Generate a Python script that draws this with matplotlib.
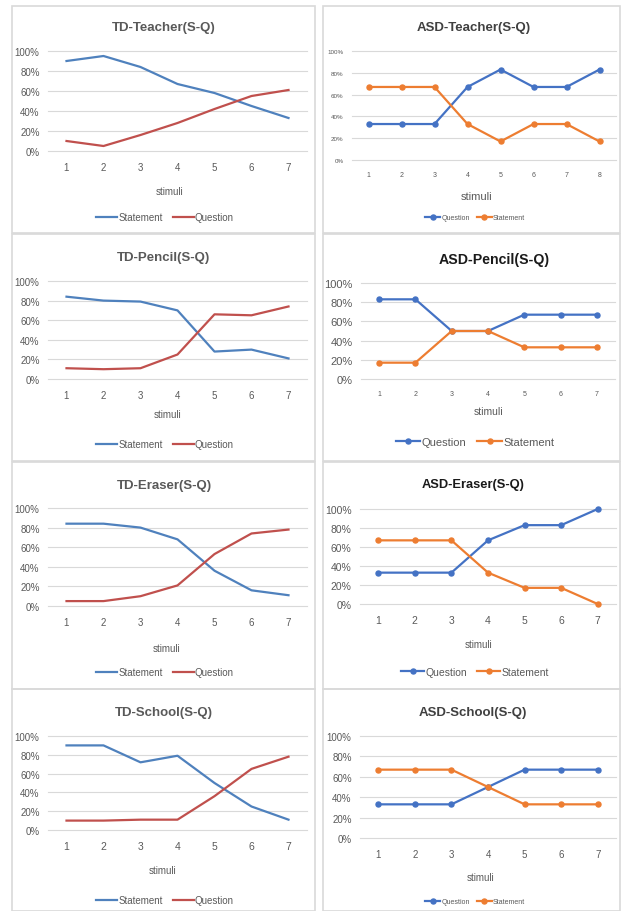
import matplotlib
matplotlib.use("Agg")
import matplotlib.pyplot as plt
from matplotlib.patches import Rectangle
from matplotlib.ticker import PercentFormatter

plt.rcParams['font.family'] = ['Liberation Sans Narrow', 'Liberation Sans', 'DejaVu Sans']

# ---- data (share of responses per stimulus) ----
stim7 = [1, 2, 3, 4, 5, 6, 7]
stim8 = [1, 2, 3, 4, 5, 6, 7, 8]

td_teacher_statement = [0.90, 0.95, 0.84, 0.67, 0.58, 0.45, 0.33]
td_teacher_question = [0.10, 0.05, 0.16, 0.28, 0.42, 0.55, 0.61]
asd_teacher_question = [0.33, 0.33, 0.33, 0.67, 0.83, 0.67, 0.67, 0.83]
asd_teacher_statement = [0.67, 0.67, 0.67, 0.33, 0.17, 0.33, 0.33, 0.17]

td_pencil_statement = [0.84, 0.80, 0.79, 0.70, 0.28, 0.30, 0.21]
td_pencil_question = [0.11, 0.10, 0.11, 0.25, 0.66, 0.65, 0.74]
asd_pencil_question = [0.83, 0.83, 0.50, 0.50, 0.67, 0.67, 0.67]
asd_pencil_statement = [0.17, 0.17, 0.50, 0.50, 0.33, 0.33, 0.33]

td_eraser_statement = [0.84, 0.84, 0.80, 0.68, 0.36, 0.16, 0.11]
td_eraser_question = [0.05, 0.05, 0.10, 0.21, 0.53, 0.74, 0.78]
asd_eraser_question = [0.33, 0.33, 0.33, 0.67, 0.83, 0.83, 1.00]
asd_eraser_statement = [0.67, 0.67, 0.67, 0.33, 0.17, 0.17, 0.00]

td_school_statement = [0.90, 0.90, 0.72, 0.79, 0.50, 0.25, 0.11]
td_school_question = [0.10, 0.10, 0.11, 0.11, 0.36, 0.65, 0.78]
asd_school_question = [0.33, 0.33, 0.33, 0.50, 0.67, 0.67, 0.67]
asd_school_statement = [0.67, 0.67, 0.67, 0.50, 0.33, 0.33, 0.33]

W, H = 622, 912
TD_BLUE, TD_RED = '#4F81BD', '#C0504D'
ASD_BLUE, ASD_ORANGE = '#4472C4', '#ED7D31'
GRAY = '#595959'

fig = plt.figure(figsize=(W / 100, H / 100), dpi=100)


def fx(px):
    return px / W


def fy(py):
    return 1 - py / H


# panel frames (pixels: left, top, right, bottom)
frames = [(12, 7, 315, 234), (323, 7, 620, 234),
          (12, 235, 315, 462), (323, 235, 620, 462),
          (12, 463, 315, 690), (323, 463, 620, 690),
          (12, 690, 315, 912), (323, 690, 620, 912)]
for l, t, r, b in frames:
    fig.patches.append(Rectangle((fx(l), fy(b)), fx(r) - fx(l), fy(t) - fy(b),
                                 transform=fig.transFigure, fill=False,
                                 edgecolor='#d9d9d9', linewidth=1.2))

panels = [
    # plot box (x0, x1, y100, y0), title/stimuli/legend centres in pixels,
    # font sizes (title, ytick, xtick, stimuli, legend)
    dict(title='TD-Teacher(S-Q)', x=stim7, asd=False,
         series=[('Statement', td_teacher_statement, TD_BLUE), ('Question', td_teacher_question, TD_RED)],
         box=(48, 307, 52, 152), tpos=(164, 28), spos=(170, 192), lpos=(165, 218),
         fs=(9.5, 7, 7, 7, 7), tc=GRAY),
    dict(title='ASD-Teacher(S-Q)', x=stim8, asd=True,
         series=[('Question', asd_teacher_question, ASD_BLUE), ('Statement', asd_teacher_statement, ASD_ORANGE)],
         box=(352, 616, 52, 161), tpos=(474, 28), spos=(477, 197), lpos=(475, 219),
         fs=(9.5, 4.5, 5, 8, 5), tc='#404040'),
    dict(title='TD-Pencil(S-Q)', x=stim7, asd=False,
         series=[('Statement', td_pencil_statement, TD_BLUE), ('Question', td_pencil_question, TD_RED)],
         box=(48, 307, 282, 380), tpos=(164, 258), spos=(168, 415), lpos=(165, 445),
         fs=(9.5, 7, 7, 7, 7), tc=GRAY),
    dict(title='ASD-Pencil(S-Q)', x=stim7, asd=True,
         series=[('Question', asd_pencil_question, ASD_BLUE), ('Statement', asd_pencil_statement, ASD_ORANGE)],
         box=(361, 615, 284, 380), tpos=(494, 260), spos=(489, 412), lpos=(475, 443),
         fs=(10.2, 8, 5, 7.5, 8), tc='#1a1a1a'),
    dict(title='TD-Eraser(S-Q)', x=stim7, asd=False,
         series=[('Statement', td_eraser_statement, TD_BLUE), ('Question', td_eraser_question, TD_RED)],
         box=(48, 307, 509, 607), tpos=(164, 486), spos=(167, 649), lpos=(165, 673),
         fs=(9.5, 7, 7, 7, 7), tc=GRAY),
    dict(title='ASD-Eraser(S-Q)', x=stim7, asd=True,
         series=[('Question', asd_eraser_question, ASD_BLUE), ('Statement', asd_eraser_statement, ASD_ORANGE)],
         box=(360, 616, 510, 605), tpos=(473, 485), spos=(479, 645), lpos=(475, 673),
         fs=(9.3, 7.5, 7.5, 7, 7.5), tc='#1a1a1a'),
    dict(title='TD-School(S-Q)', x=stim7, asd=False,
         series=[('Statement', td_school_statement, TD_BLUE), ('Question', td_school_question, TD_RED)],
         box=(48, 307, 737, 831), tpos=(164, 713), spos=(163, 871), lpos=(165, 901),
         fs=(9.5, 7, 7.5, 7, 7), tc=GRAY),
    dict(title='ASD-School(S-Q)', x=stim7, asd=True,
         series=[('Question', asd_school_question, ASD_BLUE), ('Statement', asd_school_statement, ASD_ORANGE)],
         box=(360, 616, 737, 839), tpos=(473, 713), spos=(481, 878), lpos=(475, 903),
         fs=(9.5, 7, 7, 7, 5), tc='#404040'),
]

for p in panels:
    x0, x1, y100, y0 = p['box']
    ax = fig.add_axes([fx(x0), fy(y0), fx(x1) - fx(x0), fy(y100) - fy(y0)])
    ft, fyt, fxt, fst, flg = p['fs']
    for name, vals, col in p['series']:
        if p['asd']:
            ax.plot(p['x'], vals, color=col, linewidth=1.6, marker='o', markersize=3.6,
                    label=name, clip_on=False, zorder=3)
        else:
            ax.plot(p['x'], vals, color=col, linewidth=1.6, label=name, clip_on=False, zorder=3)
    n = len(p['x'])
    ax.set_xlim(0.5, n + 0.5)
    ax.set_ylim(0, 1)
    ax.set_yticks([0, 0.2, 0.4, 0.6, 0.8, 1.0])
    ax.yaxis.set_major_formatter(PercentFormatter(1.0, decimals=0))
    ax.set_xticks(p['x'])
    ax.grid(axis='y', color='#d9d9d9', linewidth=0.8)
    for gl in ax.get_ygridlines():
        gl.set_clip_on(False)
    ax.set_axisbelow(True)
    for s in ax.spines.values():
        s.set_visible(False)
    ax.tick_params(axis='both', length=0, colors=GRAY)
    ax.tick_params(axis='y', labelsize=fyt, pad=6)
    ax.tick_params(axis='x', labelsize=fxt, pad=8)
    fig.text(fx(p['tpos'][0]), fy(p['tpos'][1]), p['title'], ha='center', va='center',
             fontsize=ft, fontweight='bold', color=p['tc'])
    fig.text(fx(p['spos'][0]), fy(p['spos'][1]), 'stimuli', ha='center', va='center',
             fontsize=fst, color=GRAY)
    fig.legend(*ax.get_legend_handles_labels(), loc='center',
               bbox_to_anchor=(fx(p['lpos'][0]), fy(p['lpos'][1])), bbox_transform=fig.transFigure,
               ncol=2, frameon=False, fontsize=flg, handlelength=2.2, handletextpad=0.1,
               columnspacing=1.0, labelcolor=GRAY)

fig.savefig('out.png', dpi=100, facecolor='white')
